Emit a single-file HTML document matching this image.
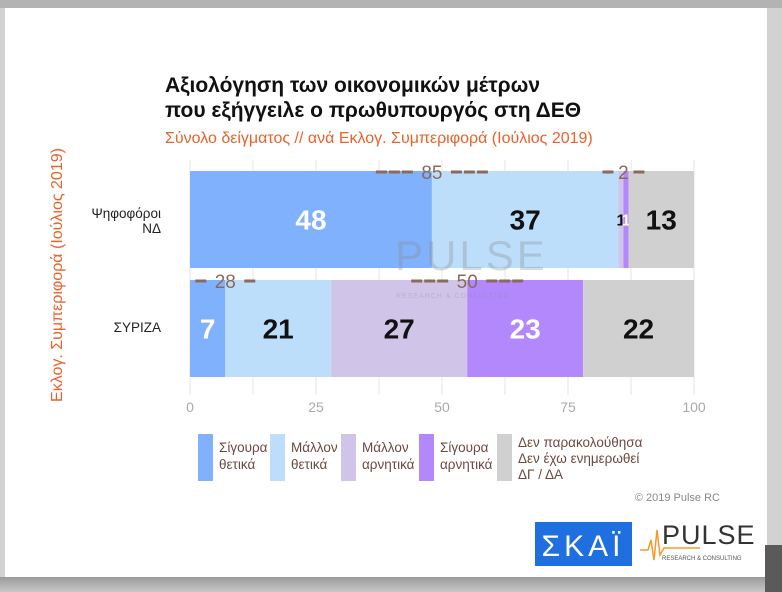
<!DOCTYPE html>
<html><head><meta charset="utf-8"><style>
body{margin:0;width:782px;height:592px;overflow:hidden;background:#d2d2d2;font-family:"Liberation Sans Narrow","Liberation Sans","Noto Sans CJK SC",sans-serif}
</style></head><body>
<svg width="782" height="592" xmlns="http://www.w3.org/2000/svg" style="display:block">
<defs><linearGradient id="bg" x1="0" y1="0" x2="0" y2="1"><stop offset="0" stop-color="#9a9a9a"/><stop offset="1" stop-color="#c8c8c8"/></linearGradient></defs>
<rect x="0" y="0" width="782" height="8" fill="#b3b3b3"/>
<rect x="0" y="577" width="782" height="15" fill="url(#bg)"/>
<rect x="5" y="8" width="762" height="569" fill="#fff"/>
<rect x="765" y="545" width="17" height="47" fill="#5a5a5a"/>
<text x="165" y="92" font-size="21" font-weight="bold" fill="#111">Αξιολόγηση των οικονομικών μέτρων</text>
<text x="165" y="117" font-size="21" font-weight="bold" fill="#111">που εξήγγειλε ο πρωθυπουργός στη ΔΕΘ</text>
<text x="165" y="143" font-size="16" fill="#e8622a">Σύνολο δείγματος // ανά Εκλογ. Συμπεριφορά (Ιούλιος 2019)</text>
<text transform="translate(62,275) rotate(-90)" text-anchor="middle" font-size="16" fill="#e8622a">Εκλογ. Συμπεριφορά (Ιούλιος 2019)</text>
<text x="161" y="218" text-anchor="end" font-size="13.5" fill="#222">Ψηφοφόροι</text>
<text x="161" y="233" text-anchor="end" font-size="13.5" fill="#222">ΝΔ</text>
<text x="161" y="332" text-anchor="end" font-size="13.5" fill="#222">ΣΥΡΙΖΑ</text>
<g id="grid"></g><g id="bars"></g><g id="annots"></g><g id="ticks"></g>
<g opacity="0.3">
<text x="395" y="270" font-size="42" fill="#888" font-family="Liberation Sans" letter-spacing="3">PULSE</text>
<text x="396" y="298" font-size="7" fill="#888" font-family="Liberation Sans" letter-spacing="1">RESEARCH &amp; CONSULTING</text>
</g>
<g id="legend"></g>
<text x="720" y="501" text-anchor="end" font-size="11" fill="#888">© 2019 Pulse RC</text>
<rect x="535" y="522" width="97" height="44" fill="#1f6fe0"/>
<text x="583" y="556" text-anchor="middle" font-size="30" fill="#fff" font-family="Liberation Sans" letter-spacing="4">ΣΚΑΪ</text>
<g>
<polyline points="640,550 648,550 651,540 654,560 657,530 660,555 664,548 700,548" fill="none" stroke="#f39a2b" stroke-width="1.5"/>
<text x="662" y="544" font-size="27" fill="#333" font-family="Liberation Sans" letter-spacing="1">PULSE</text>
<text x="662" y="560" font-size="6" fill="#555" font-family="Liberation Sans">RESEARCH &amp; CONSULTING</text>
</g>
</svg>
<script>
const categories=["Ψηφοφόροι ΝΔ","ΣΥΡΙΖΑ"];
const seriesNames=["Σίγουρα θετικά","Μάλλον θετικά","Μάλλον αρνητικά","Σίγουρα αρνητικά","Δεν παρακολούθησα / ΔΓ / ΔΑ"];
const sigouraThetika=[48,7];
const mallonThetika=[37,21];
const mallonArnitika=[1,27];
const sigouraArnitika=[1,23];
const denXero=[13,22];
const positiveTotals=[85,28];
const negativeTotals=[2,50];
const tickValues=[0,25,50,75,100];
const colors=["#80b1fc","#bcdefa","#d0c4e8","#b388fc","#d0d0d0"];
const labelColors=["#fff","#111","#111","#fff","#111"];
const NS="http://www.w3.org/2000/svg";
const x=v=>190+v*5.04;
const bandY=[171,280], bandH=97;
function mk(t,a,p){const e=document.createElementNS(NS,t);for(const k in a)e.setAttribute(k,a[k]);p.appendChild(e);return e;}
const grid=document.getElementById('grid');
for(let v=0;v<=100;v+=12.5){const l=mk('line',{x1:x(v),x2:x(v),y1:160,y2:395,stroke:'#e6e6e6','stroke-width':1},grid);

}
const series=[sigouraThetika,mallonThetika,mallonArnitika,sigouraArnitika,denXero];
const bars=document.getElementById('bars');
categories.forEach((c,i)=>{let acc=0;
series.forEach((s,j)=>{const v=s[i];
const r=mk('rect',{x:x(acc),y:bandY[i],width:v*5.04,height:bandH,fill:colors[j]},bars);


const fs=v<3?16:28;
const t=mk('text',{x:x(acc+v/2),y:bandY[i]+bandH/2+fs*0.36,'text-anchor':'middle','font-size':fs,'font-weight':'bold',fill:labelColors[j]},bars);
t.textContent=v;


acc+=v;});});
const an=document.getElementById('annots');
function annot(i,at,val){const cx=x(at),y=bandY[i]+1;
const g=mk('g',{},an);


const n=val>=40?3:1;
const hw=String(val).length>1?17:8;
for(let k=0;k<n;k++){
mk('rect',{x:cx-hw-(k+1)*13,y:y-1.5,width:11,height:3,fill:'#8a6a5c'},g);
mk('rect',{x:cx+hw+k*13+2,y:y-1.5,width:11,height:3,fill:'#8a6a5c'},g);}
const t=mk('text',{x:cx,y:y+7,'text-anchor':'middle','font-size':19,fill:'#8a6a5c'},g);t.textContent=val;}
categories.forEach((c,i)=>{
annot(i,sigouraThetika[i],positiveTotals[i]);
annot(i,sigouraThetika[i]+mallonThetika[i]+mallonArnitika[i],negativeTotals[i]);});
const tk=document.getElementById('ticks');
tickValues.forEach(v=>{const t=mk('text',{x:x(v),y:412,'text-anchor':'middle','font-size':14,fill:'#aaa'},tk);t.textContent=v;

});
const lg=document.getElementById('legend');
const legendLines=[["Σίγουρα","θετικά"],["Μάλλον","θετικά"],["Μάλλον","αρνητικά"],["Σίγουρα","αρνητικά"],["Δεν παρακολούθησα","Δεν έχω ενημερωθεί","ΔΓ / ΔΑ"]];
const lx=[198,270,341,419,497];
legendLines.forEach((ls,j)=>{const g=mk('g',{},lg);


mk('rect',{x:lx[j],y:434,width:15,height:47,fill:colors[j]},g);
ls.forEach((s,k)=>{const t=mk('text',{x:lx[j]+21,y:(ls.length>2?447:452)+k*(ls.length>2?16:17),'font-size':13.5,fill:'#6b4a3f'},g);t.textContent=s;});});
</script>
</body></html>
